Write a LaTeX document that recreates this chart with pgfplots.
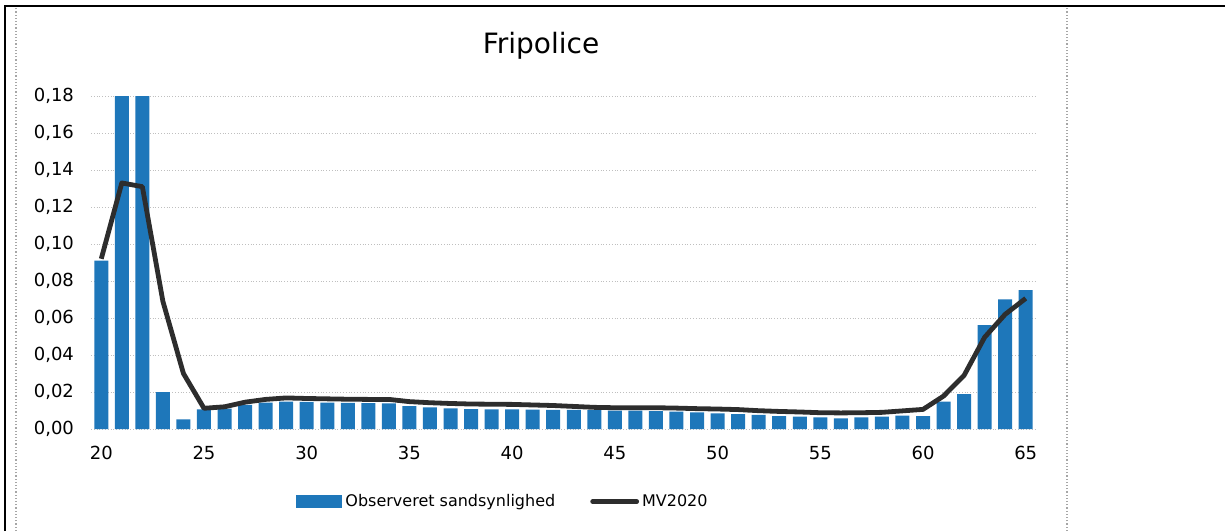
\documentclass[border=0pt]{standalone}
\usepackage{fontspec}
\setmainfont{DejaVu Sans}
\usepackage{pgfplots}
\pgfplotsset{compat=1.18}
\usepackage{pgfplotstable}

\definecolor{barblue}{RGB}{30,119,186}
\definecolor{mvline}{RGB}{45,45,45}

% age, observed, MV2020
\pgfplotstableread{
age obs mv
20 0.0910 0.0920
21 0.2000 0.1330
22 0.2000 0.1310
23 0.0200 0.0690
24 0.0052 0.0300
25 0.0106 0.0112
26 0.0110 0.0120
27 0.0130 0.0145
28 0.0142 0.0160
29 0.0148 0.0168
30 0.0147 0.0165
31 0.0143 0.0163
32 0.0141 0.0161
33 0.0140 0.0160
34 0.0138 0.0160
35 0.0124 0.0148
36 0.0117 0.0142
37 0.0112 0.0138
38 0.0108 0.0135
39 0.0106 0.0134
40 0.0106 0.0133
41 0.0105 0.0130
42 0.0104 0.0127
43 0.0103 0.0122
44 0.0102 0.0117
45 0.0100 0.0115
46 0.0099 0.0115
47 0.0097 0.0115
48 0.0094 0.0113
49 0.0090 0.0110
50 0.0085 0.0108
51 0.0081 0.0105
52 0.0076 0.0099
53 0.0070 0.0095
54 0.0067 0.0092
55 0.0063 0.0088
56 0.0058 0.0087
57 0.0063 0.0088
58 0.0067 0.0090
59 0.0072 0.0098
60 0.0070 0.0106
61 0.0148 0.0178
62 0.0189 0.0290
63 0.0562 0.0496
64 0.0701 0.0620
65 0.0751 0.0706
}\fripolice

\begin{document}
\begin{tikzpicture}
% page size: 1225x531 px at 0.5pt per px, origin at plot area lower left
\path[use as bounding box] (-45.5pt,-51pt) rectangle (567pt,214.5pt);
% scanned page frame
\draw[black, line width=1.1pt] (-43pt,-51pt) -- (-43pt,211.5pt) -- (567pt,211.5pt);
\draw[gray!70, line width=0.6pt, densely dotted] (-37.5pt,-51pt) -- (-37.5pt,210.5pt);
\draw[gray!70, line width=0.6pt, densely dotted] (488pt,-51pt) -- (488pt,210.5pt);
\node[font=\fontsize{14}{16}\selectfont] at (225pt,191.5pt) {Fripolice};

\begin{axis}[
  at={(0,0)}, anchor=south west,
  scale only axis,
  width=472.5pt, height=166.5pt,
  xmin=19.5, xmax=65.5,
  ymin=0, ymax=0.18,
  xtick={20,25,...,65},
  ytick={0,0.02,...,0.181},
  axis line style={draw=none},
  major tick length=0pt,
  ymajorgrids=true,
  grid style={gray!50, line width=0.4pt, densely dotted},
  tick label style={font=\fontsize{9}{11}\selectfont},
  /pgf/number format/assume math mode=true,
  yticklabel={\pgfmathprintnumber[fixed, fixed zerofill, precision=2, use comma]{\tick}},
  xticklabel style={yshift=-5pt},
  yticklabel style={xshift=-5pt},
  legend style={
    at={(0.217,-0.218)}, anchor=west,
    draw=none, fill=none, inner sep=0pt,
    font=\fontsize{8}{10}\selectfont,
    legend columns=2,
    /tikz/every even column/.append style={column sep=16pt},
    nodes={inner sep=1.5pt},
  },
]
\addplot[ybar, bar width=7pt, fill=barblue, draw=none,
  legend image code/.code={\fill[barblue] (0pt,-3.3pt) rectangle (23pt,3.3pt);}]
  table[x=age, y=obs] {\fripolice};
\addlegendentry{Observeret sandsynlighed}
\addplot[mvline, line width=2.4pt, line join=round,
  legend image code/.code={\draw[mvline, line width=2.4pt, line cap=round] (0pt,0pt) -- (22pt,0pt);}]
  table[x=age, y=mv] {\fripolice};
\addlegendentry{MV2020}
\end{axis}
\end{tikzpicture}
\end{document}
